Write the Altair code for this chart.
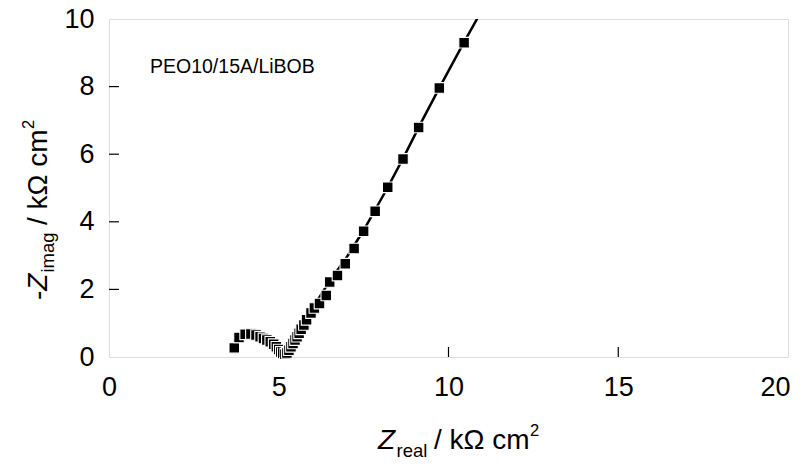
import altair as alt
import pandas as pd

# Measured impedance points (kOhm cm^2), in measurement order
z_real = [3.69, 3.83, 4.01, 4.18, 4.33, 4.45, 4.55, 4.65, 4.75, 4.85, 4.93, 5.00,
          5.06, 5.12, 5.18, 5.24, 5.30, 5.36, 5.42, 5.48, 5.54, 5.60, 5.66, 5.74,
          5.82, 5.95, 6.05, 6.20, 6.40, 6.50, 6.73, 6.96, 7.22, 7.50, 7.84, 8.21,
          8.66, 9.12, 9.73, 10.46]
z_imag = [0.27, 0.58, 0.67, 0.68, 0.65, 0.60, 0.55, 0.50, 0.45, 0.38, 0.30, 0.22,
          0.15, 0.10, 0.08, 0.12, 0.20, 0.30, 0.40, 0.50, 0.60, 0.70, 0.82, 0.95,
          1.10, 1.30, 1.45, 1.58, 1.82, 2.22, 2.41, 2.76, 3.21, 3.72, 4.31, 5.02,
          5.86, 6.79, 7.96, 9.30]

# Fit curve
fit_real = [5.60, 6.00, 6.50, 7.00, 7.50, 8.20, 8.70, 9.20, 9.75, 10.45, 10.95]
fit_imag = [0.85, 1.45, 2.25, 2.95, 3.75, 5.00, 5.95, 6.95, 8.00, 9.30, 10.20]

x_ticks = [0, 5, 10, 15, 20]
y_ticks = [0, 2, 4, 6, 8, 10]
x_inner_ticks = [5, 10, 15]
y_inner_ticks = [2, 4, 6, 8]

sample_label = "PEO10/15A/LiBOB"

W, H = 679, 338
FONT = "Liberation Sans"

pts = pd.DataFrame({"x": z_real, "y": z_imag})
fit = pd.DataFrame({"x": fit_real, "y": fit_imag, "order": list(range(len(fit_real)))})

xs = alt.Scale(domain=[0, 20], nice=False, zero=False)
ys = alt.Scale(domain=[0, 10], nice=False, zero=False)

xax = alt.Axis(values=x_ticks, title=None, grid=False, ticks=False, domain=False,
               labelFont=FONT, labelFontSize=27, labelColor="black", labelPadding=17,
               labelFlush=False,
               labelAlign=alt.expr("datum.value == 20 ? 'right' : 'center'"),
               labelOffset=alt.expr("datum.value == 20 ? 2 : 0"))
yax = alt.Axis(values=y_ticks, title=None, grid=False, ticks=False, domain=False,
               labelFont=FONT, labelFontSize=27, labelColor="black", labelPadding=15,
               labelFlush=False)

line = alt.Chart(fit).mark_line(color="black", strokeWidth=2.5, clip=True).encode(
    x=alt.X("x:Q", scale=xs, axis=xax),
    y=alt.Y("y:Q", scale=ys, axis=yax),
    order="order:Q",
)

squares = alt.Chart(pts).mark_square(size=112, color="black", opacity=1,
                                     stroke="white", strokeWidth=1.1, filled=True).encode(
    x=alt.X("x:Q", scale=xs),
    y=alt.Y("y:Q", scale=ys),
)

xt = alt.Chart(pd.DataFrame({"t": x_inner_ticks})).mark_rule(color="black", strokeWidth=1.2).encode(
    x=alt.X("t:Q", scale=xs), y=alt.value(H), y2=alt.value(H - 10))
yt = alt.Chart(pd.DataFrame({"t": y_inner_ticks})).mark_rule(color="black", strokeWidth=1.2).encode(
    y=alt.Y("t:Q", scale=ys), x=alt.value(0), x2=alt.value(10))


def txt(s, x, y, size, italic=False, angle=0):
    kw = dict(align="left", baseline="alphabetic", font=FONT, fontSize=size, color="black")
    if italic:
        kw["fontStyle"] = "italic"
    if angle:
        kw["angle"] = angle
    return alt.Chart(pd.DataFrame({"t": [s]})).mark_text(**kw).encode(
        text="t:N", x=alt.value(x), y=alt.value(y))


BIG, SUB, SUP = 28, 18.5, 16.5
# x title (positions relative to the plot area origin at page (109, 19))
x0 = 269
xb = 430
xtitle = [
    txt("Z", x0, xb, BIG, italic=True),
    txt("real", x0 + 18.5, xb + 8, SUB),
    txt("/ k\u03a9 cm", x0 + 56, xb, BIG),
    txt("2", x0 + 152, xb - 13, SUP),
]
# y title, rotated, reading bottom to top
yb = -62
y0 = 281
ytitle = [
    txt("-", yb, y0, BIG, angle=270),
    txt("Z", yb, y0 - 9.3, BIG, italic=True, angle=270),
    txt("imag", yb + 7, y0 - 27.5, SUB, angle=270),
    txt("/ k\u03a9 cm", yb, y0 - 75, BIG, angle=270),
    txt("2", yb - 13, y0 - 171, SUP, angle=270),
]

label = txt(sample_label, 41, 54, 19.5)

chart = alt.layer(line, squares, xt, yt, label, *xtitle, *ytitle).properties(
    width=W, height=H,
    autosize=alt.AutoSizeParams(type="none"),
    padding={"left": 101, "top": 11, "right": 12, "bottom": 103},
).configure_view(stroke="black", strokeWidth=1.3).configure(background="white")

chart.save("out.html", embed_options={"renderer": "svg", "actions": False})
